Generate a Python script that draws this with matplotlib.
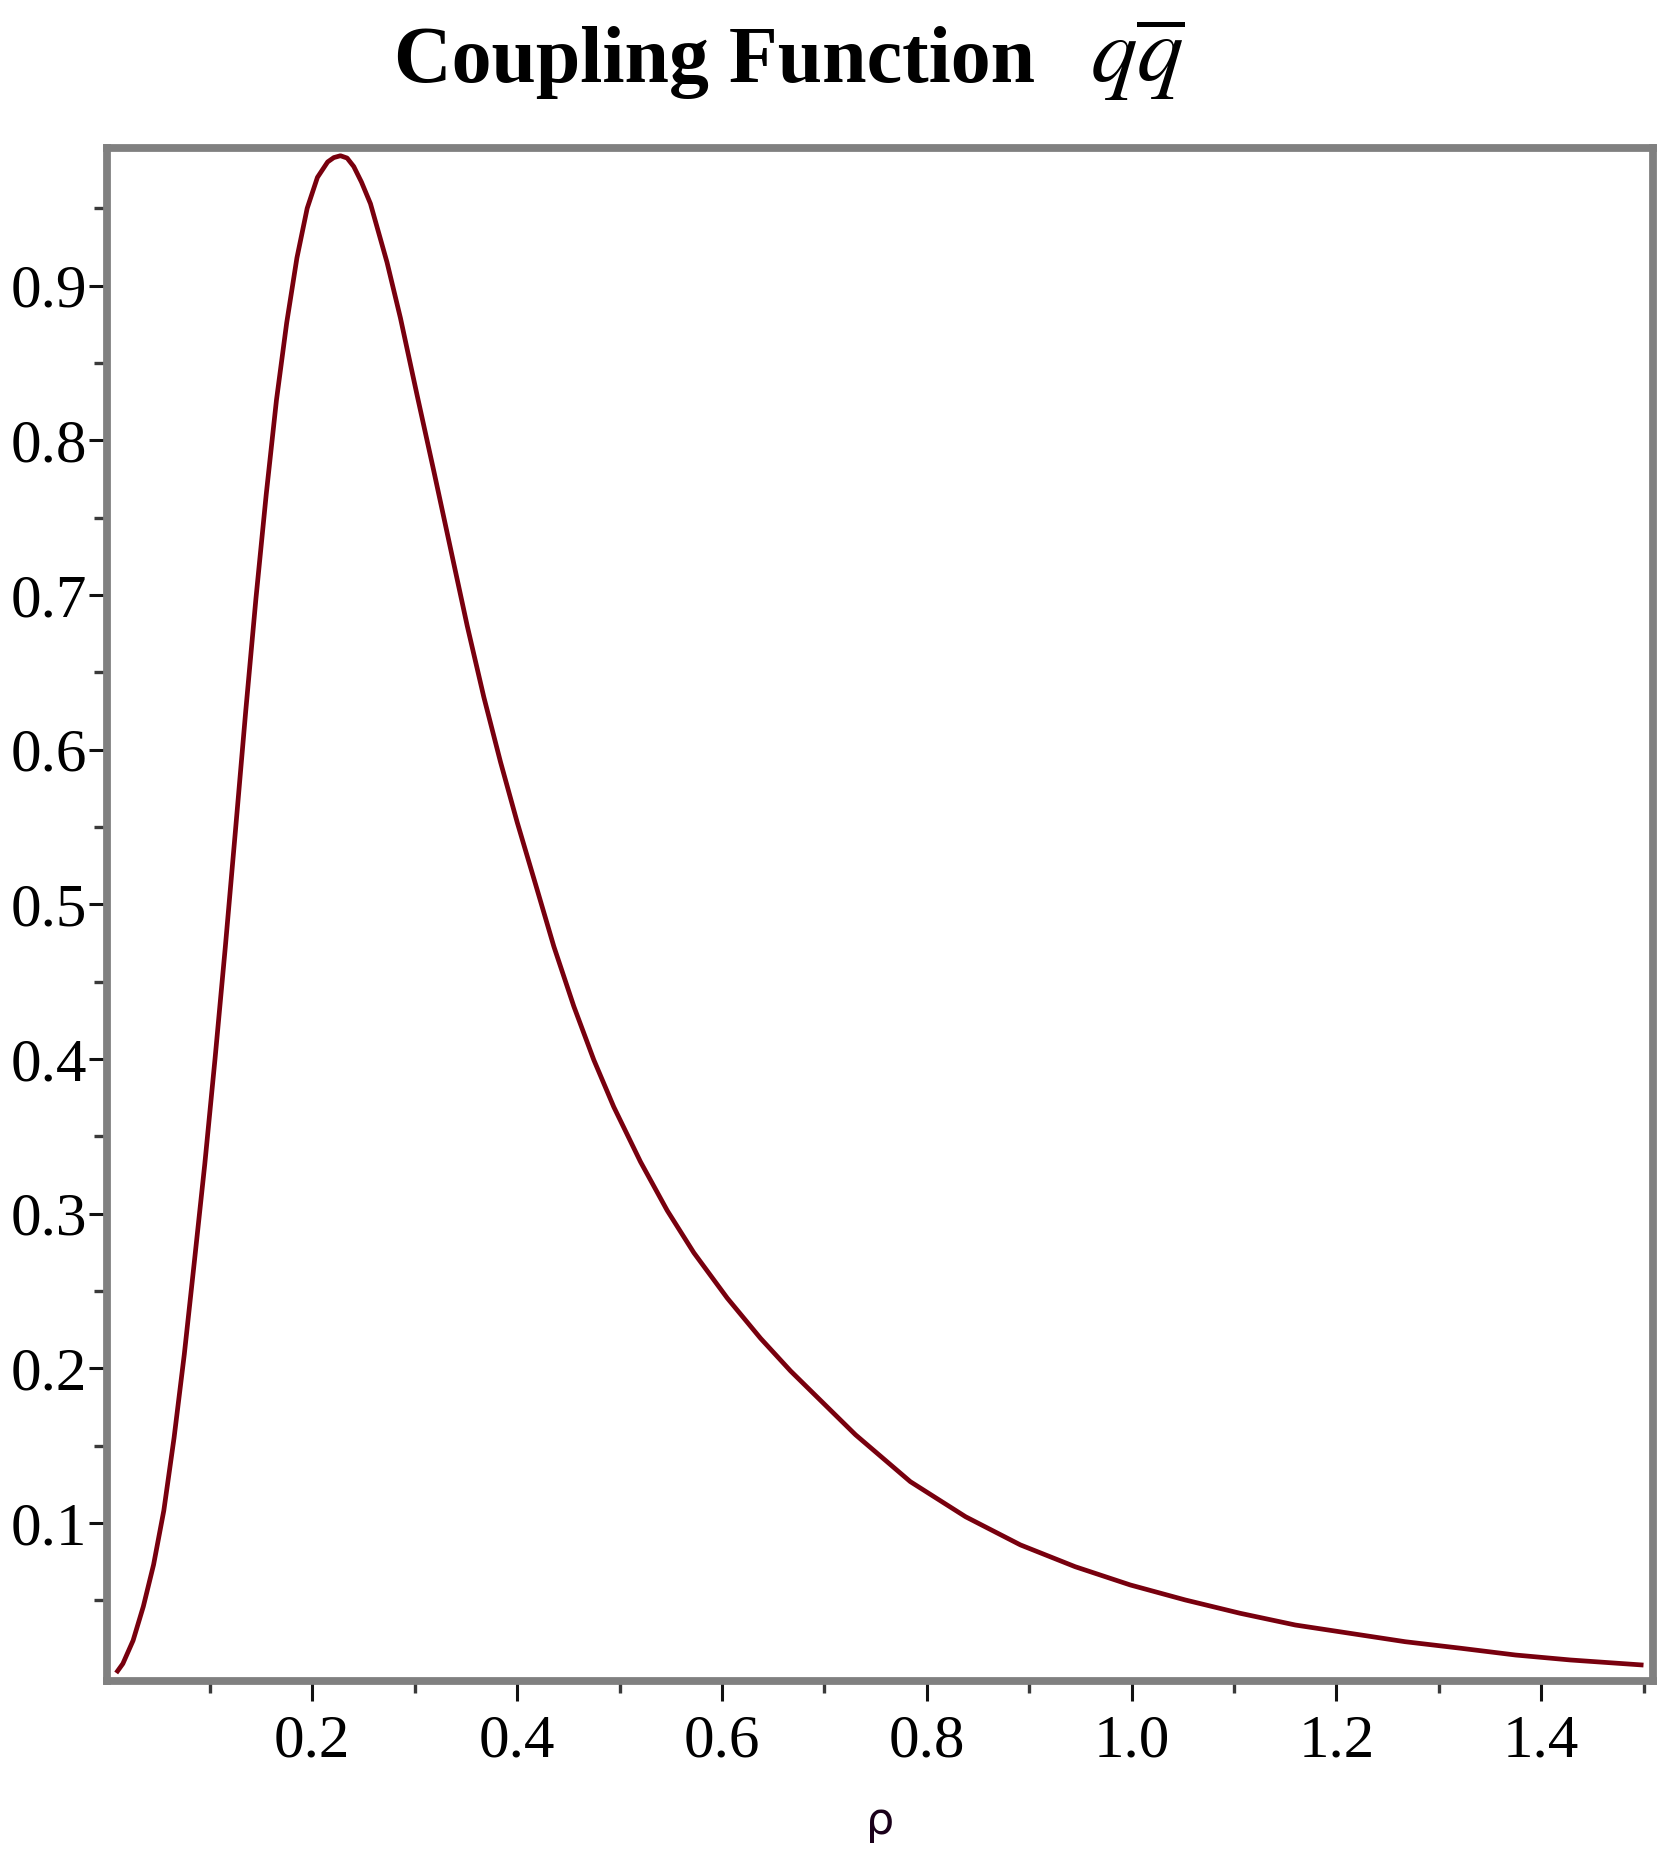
import matplotlib
matplotlib.use("Agg")
import matplotlib.pyplot as plt
from matplotlib.ticker import FixedLocator, FixedFormatter

# ---- data ----
rho = [0.0085, 0.015, 0.025, 0.035, 0.045, 0.055, 0.065, 0.075, 0.085, 0.095,
       0.105, 0.115, 0.125, 0.135, 0.145, 0.155, 0.165, 0.175, 0.185, 0.195,
       0.205, 0.215, 0.221, 0.2275, 0.234, 0.2405, 0.248, 0.2568, 0.273, 0.2861,
       0.3024, 0.3187, 0.335, 0.3513, 0.3675, 0.3838, 0.4001, 0.418, 0.4359, 0.4554,
       0.4749, 0.4944, 0.5205, 0.5466, 0.5726, 0.6052, 0.6377, 0.667, 0.7305, 0.784,
       0.838, 0.8915, 0.945, 0.9988, 1.0525, 1.106, 1.16, 1.2137, 1.2673, 1.3212,
       1.375, 1.4285, 1.5]
coupling = [0.003, 0.009, 0.024, 0.046, 0.073, 0.108, 0.155, 0.209, 0.270, 0.332,
            0.400, 0.472, 0.548, 0.625, 0.698, 0.765, 0.826, 0.876, 0.918, 0.950,
            0.970, 0.980, 0.9828, 0.984, 0.9825, 0.977, 0.967, 0.953, 0.915, 0.879,
            0.829, 0.780, 0.730, 0.680, 0.634, 0.592, 0.553, 0.513, 0.4727, 0.434,
            0.3994, 0.369, 0.3335, 0.302, 0.2747, 0.2454, 0.2194, 0.1983, 0.157, 0.1267,
            0.104, 0.0858, 0.0717, 0.0599, 0.0502, 0.0416, 0.034, 0.0286, 0.0232, 0.019,
            0.0146, 0.0114, 0.0081]

x_major = [0.2, 0.4, 0.6, 0.8, 1.0, 1.2, 1.4]
x_major_labels = ["0.2", "0.4", "0.6", "0.8", "1.0", "1.2", "1.4"]
x_minor = [0.1, 0.3, 0.5, 0.7, 0.9, 1.1, 1.3, 1.5]
y_major = [0.1, 0.2, 0.3, 0.4, 0.5, 0.6, 0.7, 0.8, 0.9]
y_major_labels = ["0.1", "0.2", "0.3", "0.4", "0.5", "0.6", "0.7", "0.8", "0.9"]
y_minor = [0.05, 0.15, 0.25, 0.35, 0.45, 0.55, 0.65, 0.75, 0.85, 0.95]

title_text = "Coupling Function"
title_math = r"$q\overline{q}$"
xlabel_text = "ρ"

# ---- figure ----
W, H = 1680, 1870
fig = plt.figure(figsize=(W / 100, H / 100), dpi=100)
L, R, T, B = 107.5, 1653, 148, 1681
ax = fig.add_axes([L / W, 1 - B / H, (R - L) / W, (B - T) / H])

ax.plot(rho, coupling, color="#78000E", lw=3.4, solid_capstyle="butt",
        solid_joinstyle="round")

ax.set_xlim(0.0, (R - L) / 1024.0)
ax.set_ylim(-0.0022, 0.989)

for s in ax.spines.values():
    s.set_color("#808080")
    s.set_linewidth(5.6)

ax.xaxis.set_major_locator(FixedLocator(x_major))
ax.xaxis.set_major_formatter(FixedFormatter(x_major_labels))
ax.xaxis.set_minor_locator(FixedLocator(x_minor))
ax.yaxis.set_major_locator(FixedLocator(y_major))
ax.yaxis.set_major_formatter(FixedFormatter(y_major_labels))
ax.yaxis.set_minor_locator(FixedLocator(y_minor))

tick_font = "Liberation Serif"
ax.tick_params(axis="x", which="major", direction="out", length=14.5, width=2.2,
               color="#111111", pad=9, labelsize=44, labelcolor="#000000")
ax.tick_params(axis="x", which="minor", direction="out", length=8.5, width=2.4,
               color="#3a3a3a")
ax.tick_params(axis="y", which="major", direction="out", length=13, width=2.2,
               color="#111111", pad=2, labelsize=44, labelcolor="#000000")
ax.tick_params(axis="y", which="minor", direction="out", length=9.4, width=2.4,
               color="#3a3a3a")
for lab in ax.get_xticklabels() + ax.get_yticklabels():
    lab.set_fontfamily(tick_font)

# axis label
fig.text(880 / W, 1 - 1834 / H, xlabel_text, ha="center", va="baseline",
         fontsize=32, family="DejaVu Sans", color="#1a001a")

# title
plt.rcParams["mathtext.fontset"] = "stix"
fig.text(394 / W, 1 - 82 / H, title_text, ha="left", va="baseline",
         fontsize=57.5, fontweight="bold", family="Liberation Serif", color="black")
fig.text(1090 / W, 1 - 82 / H, title_math, ha="left", va="baseline",
         fontsize=67, color="black")

fig.savefig("out.png", dpi=100, facecolor="white")
